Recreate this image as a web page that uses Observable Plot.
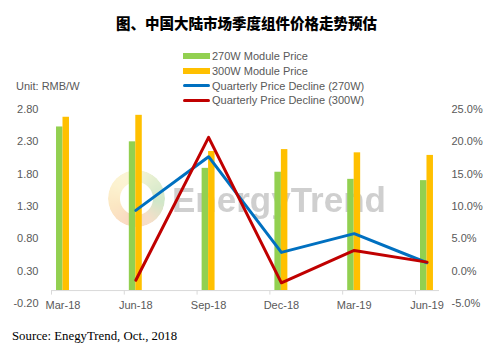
<!DOCTYPE html>
<html><head><meta charset="utf-8">
<script src="https://cdn.jsdelivr.net/npm/d3@7"></script>
<script src="https://cdn.jsdelivr.net/npm/@observablehq/plot@0.6"></script>
<style>
body{margin:0;background:#fff;}
#wrap{position:relative;width:493px;height:346px;overflow:hidden;font-family:"Liberation Sans",Arial,sans-serif;color:#595959;background:#fff;}
#chart{position:absolute;left:0;top:0;}
.abs{position:absolute;white-space:nowrap;}
#title{left:0;width:493px;top:13px;text-align:center;font-family:"Noto Sans CJK SC",sans-serif;font-weight:900;font-size:14.5px;color:#000;line-height:20px;}
.leg{position:absolute;left:183px;font-size:11px;line-height:14px;white-space:nowrap;}
.sw{display:inline-block;width:27px;vertical-align:middle;margin-right:2px;position:relative;top:-1px;}
#unit{left:16px;top:79px;font-size:11px;line-height:14px;}
#source{left:12px;top:328px;font-family:"Liberation Serif",serif;font-weight:400;font-size:12.8px;color:#000;line-height:16px;}
#ring{left:108px;top:170px;width:57px;height:57px;border-radius:50%;
 background:conic-gradient(from 200deg,#f4a36a,#f7c46a,#f9e08a,#f5e9a0,#b8d68a,#8cc47a,#e8b07a,#f4a36a);
 -webkit-mask:radial-gradient(circle,transparent 16px,#000 17px);mask:radial-gradient(circle,transparent 16px,#000 17px);opacity:0.4;}
#wm{left:172px;top:180px;font-family:"Liberation Sans",sans-serif;font-weight:700;font-size:35px;color:#c4c4c4;opacity:0.8;line-height:40px;}
</style></head>
<body><div id="wrap">
<div id="ring" class="abs"></div>
<div id="wm" class="abs">EnergyTrend</div>
<div id="chart"></div>
<div id="title" class="abs">图、中国大陆市场季度组件价格走势预估</div>
<div class="leg" style="top:49px"><span class="sw" style="height:6px;background:#92D050"></span>270W Module Price</div>
<div class="leg" style="top:64px"><span class="sw" style="height:6px;background:#FFC000"></span>300W Module Price</div>
<div class="leg" style="top:78.5px"><span class="sw" style="height:3px;background:#0070C0;border-radius:2px"></span>Quarterly Price Decline (270W)</div>
<div class="leg" style="top:93px"><span class="sw" style="height:3px;background:#C00000;border-radius:2px"></span>Quarterly Price Decline (300W)</div>
<div id="unit" class="abs">Unit: RMB/W</div>
<div id="source" class="abs">Source: EnegyTrend, Oct., 2018</div>
</div>
<script>
const categories = ["Mar-18","Jun-18","Sep-18","Dec-18","Mar-19","Jun-19"];
const price270 = [2.53, 2.30, 1.89, 1.83, 1.72, 1.70];
const price300 = [2.68, 2.71, 2.15, 2.18, 2.13, 2.09];
const decline270 = [null, 9.4, 17.7, 2.9, 5.8, 1.3];
const decline300 = [null, -1.4, 20.7, -1.8, 3.2, 1.4];
const leftTicks = [-0.2, 0.3, 0.8, 1.3, 1.8, 2.3, 2.8];
const leftTickLabels = ["-0.20","0.30","0.80","1.30","1.80","2.30","2.80"];
const rightTickLabels = ["-5.0%","0.0%","5.0%","10.0%","15.0%","20.0%","25.0%"];

// right axis (-5%..25%) mapped onto left axis (-0.2..2.8)
const toLeft = p => p / 10 + 0.3;
const bars = categories.map((c, i) => ({i, c, p270: price270[i], p300: price300[i]}));
const lineData = arr => arr.map((v, i) => ({i, v})).filter(d => d.v != null);
const x0 = -0.158, x1 = 5.172, bw = 0.089;

const chart = Plot.plot({
  width: 493, height: 346,
  marginLeft: 51, marginRight: 54, marginTop: 109, marginBottom: 43,
  x: {type: "linear", domain: [x0, x1], axis: null},
  y: {domain: [-0.2, 2.8], axis: null},
  style: {background: "transparent", fontFamily: "Liberation Sans, Arial, sans-serif", fontSize: "11px", color: "#595959"},
  marks: [
    Plot.rectY(bars, {x1: d => d.i - bw, x2: d => d.i, y1: 0, y2: "p270", fill: "#92D050"}),
    Plot.rectY(bars, {x1: d => d.i, x2: d => d.i + bw, y1: 0, y2: "p300", fill: "#FFC000"}),
    Plot.ruleY([0], {x1: x0, x2: x1, stroke: "#d9d9d9"}),
    Plot.ruleX(categories.map((c, i) => i + x0), {y1: 0, y2: -0.07, stroke: "#d9d9d9"}),
    Plot.line(lineData(decline270), {x: "i", y: d => toLeft(d.v), stroke: "#0070C0", strokeWidth: 3}),
    Plot.line(lineData(decline300), {x: "i", y: d => toLeft(d.v), stroke: "#C00000", strokeWidth: 3}),
    Plot.axisY({anchor: "left", ticks: leftTicks, tickSize: 0, tickPadding: 13,
      tickFormat: d => leftTickLabels[leftTicks.indexOf(d)], fill: "#595959"}),
    Plot.axisY({anchor: "right", ticks: leftTicks, tickSize: 0, tickPadding: 12,
      tickFormat: d => rightTickLabels[leftTicks.indexOf(d)], fill: "#595959"}),
    Plot.text(bars, {x: "i", y: -0.2, text: "c", dy: 2, fill: "#595959"})
  ]
});
document.getElementById("chart").appendChild(chart);
</script>
</body></html>
